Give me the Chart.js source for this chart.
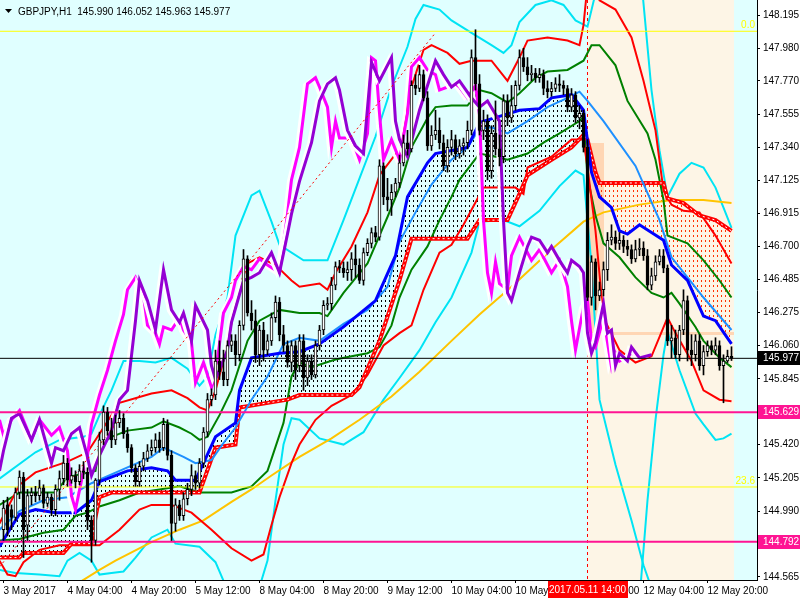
<!DOCTYPE html>
<html>
<head>
<meta charset="utf-8">
<script src="https://cdn.jsdelivr.net/npm/chart.js@4.4.1/dist/chart.umd.min.js"></script>
<style>
  html, body { margin: 0; padding: 0; background: #fff; }
  #wrap { width: 800px; height: 600px; }
</style>
</head>
<body>
<div id="wrap"><canvas id="chart" width="800" height="600"></canvas></div>
<script>
// GBPJPY H1, 3 May 2017 12:00 .. 12 May 2017 (bar index = hour bar)
const symbolTitle = "GBPJPY,H1  145.990 146.052 145.963 145.977";

const xTickIdx = [0, 16, 32, 48, 64, 80, 96, 112, 128, 144, 160, 176];
const xTickLabels = ["3 May 2017", "4 May 04:00", "4 May 20:00", "5 May 12:00", "8 May 04:00", "8 May 20:00",
  "9 May 12:00", "10 May 04:00", "10 May 20:00", "11 May 12:00", "12 May 04:00", "12 May 20:00"];
const yTickVals = [148.195, 147.980, 147.770, 147.555, 147.340, 147.125, 146.915, 146.700, 146.485, 146.275,
  146.060, 145.845, 145.630, 145.420, 145.205, 144.990, 144.775, 144.565];

// candles
const candleOpen = [144.87,145.03,145.00,144.95,145.11,145.21,144.90,145.09,145.11,145.09,
  145.14,145.04,145.08,145.00,145.13,145.20,145.30,145.19,145.22,145.18,
  145.25,145.24,144.93,144.80,145.19,145.45,145.63,145.51,145.45,145.56,
  145.59,145.49,145.40,145.27,145.18,145.28,145.33,145.38,145.40,145.45,
  145.40,145.55,145.35,144.91,145.03,144.96,145.07,145.13,145.22,145.17,
  145.30,145.50,145.71,145.74,145.96,145.89,145.84,146.06,146.09,146.00,
  146.19,146.62,146.27,146.22,146.00,146.16,146.03,146.09,146.24,146.34,
  146.13,146.06,145.95,146.06,145.93,146.09,145.85,145.96,145.87,146.06,
  146.16,146.32,146.33,146.45,146.57,146.56,146.53,146.55,146.62,146.58,
  146.48,146.66,146.72,146.79,146.76,147.22,147.02,147.00,147.05,147.11,
  147.24,147.37,147.33,147.74,147.72,147.81,147.66,147.35,147.42,147.45,
  147.37,147.22,147.34,147.39,147.30,147.35,147.37,147.45,147.92,147.75,
  147.45,147.51,147.19,147.43,147.33,147.28,147.64,147.53,147.61,147.74,
  147.92,147.86,147.81,147.82,147.79,147.81,147.72,147.70,147.72,147.75,
  147.74,147.72,147.60,147.68,147.53,147.56,147.34,146.37,146.60,146.38,
  146.42,146.55,146.74,146.76,146.72,146.74,146.70,146.68,146.62,146.68,
  146.69,146.64,146.45,146.51,146.60,146.64,146.56,146.09,146.11,146.00,
  146.16,146.35,146.03,146.00,146.09,145.93,146.02,146.06,146.03,146.06,
  145.93,145.96,145.990];
const candleHigh = [145.06,145.08,145.03,145.14,145.25,145.24,145.13,145.14,145.15,145.19,
  145.16,145.11,145.10,145.16,145.25,145.35,145.33,145.27,145.25,145.29,
  145.31,145.27,144.96,145.20,145.50,145.67,145.66,145.59,145.61,145.64,
  145.62,145.53,145.42,145.29,145.31,145.37,145.42,145.45,145.49,145.50,
  145.59,145.58,145.38,145.07,145.06,145.11,145.17,145.29,145.25,145.33,
  145.53,145.75,145.78,146.03,146.09,146.03,146.09,146.13,146.13,146.22,
  146.68,146.64,146.35,146.29,146.19,146.21,146.13,146.27,146.38,146.37,
  146.19,146.09,146.09,146.09,146.13,146.13,146.00,146.00,146.09,146.19,
  146.35,146.37,146.50,146.60,146.61,146.60,146.60,146.66,146.71,146.62,
  146.69,146.75,146.82,146.83,147.26,147.24,147.14,147.10,147.14,147.29,
  147.42,147.45,147.77,147.81,147.87,147.84,147.70,147.48,147.58,147.53,
  147.42,147.39,147.45,147.42,147.39,147.40,147.51,147.97,148.10,147.81,
  147.58,147.55,147.48,147.64,147.42,147.68,147.68,147.74,147.77,147.97,
  147.98,147.92,147.87,147.85,147.85,147.84,147.77,147.76,147.79,147.81,
  147.77,147.74,147.72,147.70,147.61,147.58,147.39,146.64,146.62,146.47,
  146.60,146.79,146.84,146.80,146.79,146.77,146.74,146.71,146.74,146.75,
  146.73,146.68,146.56,146.64,146.68,146.68,146.58,146.19,146.16,146.19,
  146.42,146.38,146.13,146.13,146.13,146.06,146.09,146.09,146.11,146.09,
  146.00,146.03,146.052];
const candleLow = [144.80,144.83,144.87,144.93,145.07,144.69,144.80,145.03,145.05,145.06,
  145.01,145.02,144.96,144.96,145.06,145.16,145.15,145.17,145.14,145.16,
  145.20,144.87,144.66,144.77,145.16,145.42,145.48,145.40,145.42,145.53,
  145.46,145.37,145.24,145.15,145.15,145.25,145.31,145.35,145.37,145.37,
  145.38,145.32,144.80,144.86,144.93,144.93,145.03,145.09,145.13,145.14,
  145.27,145.47,145.67,145.71,145.84,145.80,145.80,146.02,145.93,145.96,
  146.16,146.25,146.16,145.95,145.93,145.96,146.00,146.06,146.21,146.09,
  146.02,145.92,145.89,145.84,145.89,145.77,145.80,145.84,145.85,146.03,
  146.13,146.29,146.29,146.42,146.53,146.50,146.48,146.48,146.50,146.46,
  146.45,146.64,146.69,146.73,146.74,146.97,146.93,146.90,147.02,147.08,
  147.22,147.29,147.31,147.68,147.70,147.64,147.32,147.32,147.39,147.33,
  147.19,147.18,147.29,147.26,147.27,147.29,147.33,147.42,147.71,147.42,
  147.39,147.13,147.14,147.29,147.22,147.24,147.48,147.50,147.58,147.71,
  147.83,147.77,147.77,147.76,147.76,147.68,147.66,147.67,147.70,147.70,
  147.68,147.57,147.57,147.50,147.46,147.31,146.35,146.32,146.29,146.35,
  146.38,146.48,146.71,146.68,146.68,146.66,146.64,146.59,146.60,146.64,
  146.61,146.42,146.42,146.48,146.58,146.53,146.06,145.98,145.98,145.96,
  146.13,145.96,145.93,145.96,145.90,145.87,145.99,146.00,146.00,145.90,
  145.69,145.95,145.963];
const candleClose = [145.01,144.87,144.95,145.11,145.21,144.87,145.09,145.11,145.09,145.14,
  145.04,145.08,145.00,145.13,145.20,145.30,145.19,145.22,145.18,145.25,
  145.24,144.93,144.80,145.19,145.45,145.63,145.51,145.45,145.56,145.59,
  145.49,145.40,145.27,145.18,145.28,145.33,145.38,145.40,145.45,145.40,
  145.55,145.35,144.91,145.03,144.96,145.07,145.13,145.22,145.17,145.30,
  145.50,145.71,145.74,145.96,145.89,145.84,146.06,146.09,146.00,146.19,
  146.62,146.27,146.22,146.00,146.16,146.03,146.09,146.24,146.34,146.13,
  146.06,145.95,146.06,145.90,146.09,145.85,145.96,145.87,146.06,146.16,
  146.32,146.33,146.45,146.57,146.56,146.53,146.55,146.62,146.58,146.48,
  146.66,146.72,146.79,146.76,147.22,147.02,147.00,147.05,147.11,147.24,
  147.37,147.33,147.74,147.72,147.81,147.66,147.35,147.42,147.45,147.37,
  147.22,147.34,147.39,147.30,147.35,147.37,147.45,147.92,147.75,147.45,
  147.51,147.19,147.43,147.33,147.28,147.64,147.53,147.61,147.74,147.92,
  147.86,147.81,147.82,147.79,147.81,147.72,147.70,147.72,147.75,147.74,
  147.72,147.60,147.68,147.53,147.56,147.34,146.37,146.60,146.38,146.42,
  146.55,146.74,146.76,146.72,146.74,146.70,146.68,146.62,146.68,146.69,
  146.64,146.45,146.51,146.60,146.64,146.56,146.09,146.11,146.00,146.16,
  146.35,146.03,146.00,146.09,145.93,146.02,146.06,146.03,146.06,145.93,
  145.96,145.99,145.977];

// indicator lines (bar index / price)
const maX = [19,24,28,37,44,50,57,62,67,74,82,89,97,104,112,119,127,137,145,150,159,167,175,182];
const maY = [144.53,144.61,144.67,144.79,144.87,144.93,145.05,145.13,145.22,145.34,145.46,145.58,145.73,145.89,146.09,146.26,146.44,146.68,146.86,146.92,146.97,147.00,147.00,146.98];

const cyanUpperX = [-1,8,14,20,22,24,27,30,34,38,42,46,49,51,53,56,58,62,64,67,69,75,81,85,89,93,97,101,103,105,109,112,117,122,125,127,129,133,137,140,143,146,150,159,162,164,166,169,172,175,178,180,182];
const cyanUpperY = [145.20,145.37,145.45,145.47,145.49,145.61,145.77,145.96,145.96,145.95,145.98,145.91,145.80,145.86,146.13,146.37,146.77,147.03,147.06,146.86,146.71,146.61,146.61,146.87,147.14,147.41,147.73,147.99,148.17,148.26,148.23,148.16,148.08,148.00,147.95,148.00,148.15,148.26,148.29,148.26,148.16,148.12,148.55,148.55,147.71,147.32,147.02,147.17,147.24,147.21,147.08,146.95,146.82];
const cyanLowerX = [-1,3,9,14,16,19,22,24,27,30,33,37,41,43,49,53,55,59,64,66,68,70,72,74,79,85,90,95,99,104,108,112,117,119,125,129,134,139,143,145,147,149,153,157,160,163];
const cyanLowerY = [144.61,144.59,144.58,144.57,144.67,144.72,144.67,144.58,144.59,144.60,144.69,144.82,144.87,144.78,144.76,144.66,144.54,144.45,144.50,144.67,145.06,145.42,145.59,145.58,145.46,145.42,145.50,145.71,145.85,146.03,146.21,146.37,146.66,146.86,146.87,146.83,146.93,147.09,147.19,147.16,146.58,145.71,145.29,144.93,144.64,144.42];
const cyanFutureX = [159,161,163,165,166,169,173,175,178,180,182];
const cyanFutureY = [144.42,145.06,145.58,146.00,146.15,145.90,145.62,145.55,145.45,145.46,145.49];

const greenUpperX = [-1,4,13,16,23,24,27,31,37,40,44,47,49,51,54,57,61,64,69,74,79,81,85,91,96,99,102,106,108,112,116,119,122,126,129,133,136,141,145,147,149,153,156,161,163,165,166,171,175,179,182];
const greenUpperY = [145.03,145.11,145.11,145.21,145.25,145.42,145.47,145.51,145.53,145.57,145.53,145.49,145.45,145.47,145.61,145.77,146.09,146.22,146.29,146.27,146.27,146.25,146.40,146.59,146.89,147.08,147.34,147.53,147.60,147.61,147.61,147.71,147.69,147.63,147.69,147.79,147.83,147.84,147.90,148.00,148.00,147.87,147.64,147.43,147.26,147.00,146.77,146.72,146.61,146.48,146.37];
const greenLowerX = [-1,4,10,15,18,21,24,29,34,39,44,49,57,62,66,70,72,74,77,83,87,91,94,97,99,102,106,109,112,114,119,123,126,131,135,139,144,145,146,148,150,154,158,162,165,167,169,173,175,179,182];
const greenLowerY = [144.80,144.81,144.85,144.87,144.96,144.98,145.02,145.06,145.11,145.13,145.15,145.11,145.11,145.15,145.25,145.56,145.86,145.95,145.92,145.97,145.99,146.01,146.05,146.19,146.37,146.55,146.70,146.87,147.02,147.13,147.30,147.28,147.26,147.30,147.37,147.43,147.51,147.54,147.15,146.90,146.72,146.63,146.50,146.40,146.37,146.40,146.33,146.18,146.09,145.98,145.92];

const redUpperX = [-1,4,8,16,21,24,29,37,42,46,49,51,53,56,58,61,64,68,72,74,79,81,83,87,91,94,99,102,105,107,111,114,117,122,126,129,131,136,141,144,145,146,148,149,153,157,160,163,165,167,170,174,178,182];
const redUpperY = [144.91,145.16,145.24,145.31,145.37,145.49,145.69,145.75,145.77,145.72,145.66,145.64,145.77,146.06,146.35,146.59,146.63,146.58,146.48,146.44,146.46,146.42,146.53,146.70,146.92,147.16,147.33,147.73,147.97,148.00,147.95,147.88,147.90,147.90,147.77,147.92,148.03,148.05,148.03,148.00,148.13,148.39,148.42,148.29,148.23,148.05,147.77,147.45,147.06,146.97,146.93,146.92,146.77,146.59];
const redLowerX = [-1,1,3,5,9,14,24,29,34,37,42,47,52,57,62,65,67,69,72,74,78,82,87,91,95,99,102,105,109,112,115,120,128,130,131,137,142,145,146,148,150,154,158,162,166,168,172,175,179,182];
const redLowerY = [144.67,144.58,144.57,144.66,144.74,144.77,144.77,144.87,145.00,145.03,145.03,144.98,144.87,144.75,144.67,144.71,144.90,145.08,145.30,145.42,145.58,145.67,145.74,145.87,146.06,146.14,146.19,146.42,146.66,146.71,146.84,147.08,147.08,147.04,147.21,147.28,147.39,147.39,147.21,146.80,146.24,146.03,145.95,145.99,146.24,146.14,145.96,145.77,145.71,145.70];

// cloud: span A (blue) and span B (red step)
const spanAX = [-1,2,4,8,13,18,22,24,31,37,41,43,48,50,53,58,59,62,69,74,79,85,93,98,101,106,108,116,119,124,129,134,137,142,145,147,149,152,154,156,159,165,167,171,175,178,182];
const spanAY = [144.76,144.89,144.97,145.00,144.98,144.98,145.06,145.18,145.25,145.27,145.25,145.19,145.19,145.30,145.47,145.56,145.77,145.98,146.01,146.02,146.07,146.18,146.35,146.64,147.02,147.24,147.30,147.34,147.50,147.54,147.58,147.59,147.66,147.68,147.58,147.18,147.02,146.95,146.80,146.78,146.84,146.74,146.58,146.48,146.25,146.22,146.07];
const spanBX = [-1,4,5,15,17,22,23,24,27,49,53,58,59,71,74,87,89,94,99,102,116,119,126,129,131,137,142,145,146,148,149,165,166,170,174,178,182];
const spanBY = [144.69,144.69,144.72,144.72,144.78,144.78,144.95,145.08,145.11,145.11,145.40,145.42,145.66,145.71,145.74,145.74,145.79,146.09,146.48,146.75,146.75,146.87,146.87,147.04,147.16,147.26,147.34,147.42,147.39,147.18,147.11,147.11,147.01,146.98,146.90,146.87,146.80];
const lightBlueX = [-1,4,10,16,22,29,37,40,45,48,52,55,58,62,66,70,74,79,85,91,96,99,103,107,112,116,119,122,126,131,136,141,144,146,150,158,164,167,171,175,182];
const lightBlueY = [144.87,144.99,145.06,145.08,145.17,145.25,145.34,145.40,145.34,145.30,145.32,145.43,145.53,145.71,145.86,146.07,146.11,146.09,146.20,146.29,146.44,146.73,146.92,147.10,147.26,147.34,147.46,147.47,147.43,147.51,147.60,147.66,147.70,147.64,147.51,147.22,146.87,146.63,146.50,146.37,146.16];

const magentaX = [-1,0,2,4,7,9,12,14,16,17,18,20,21,22,24,26,28,30,31,33,35,36,38,39,40,42,44,45,47,48,50,52,53,55,57,58,60,62,64,66,69,71,72,74,76,78,79,81,82,83,84,87,89,91,92,93,94,95,97,99,101,102,104,106,108,109,111,113,114,116,118,119,120,121,122,123,124,126,127,129,132,134,137,139,141,142,143,145,146,147,148,150,152,153,154,157,159];
const magentaY = [145.58,145.48,145.58,145.64,145.45,145.58,145.48,145.53,145.38,145.09,145.00,145.25,145.35,145.55,145.74,145.90,146.09,146.26,146.42,146.50,146.38,146.19,146.14,146.07,146.18,146.16,146.24,146.16,146.08,145.82,145.95,145.79,145.87,146.27,146.37,146.48,146.57,146.55,146.62,146.58,146.53,146.91,147.13,147.34,147.75,147.79,147.73,147.60,147.34,147.51,147.40,147.40,147.26,147.43,147.92,147.90,147.56,147.26,147.39,147.26,147.56,147.86,147.92,147.84,147.81,147.71,147.73,147.75,147.73,147.66,147.74,147.55,146.87,146.53,146.40,146.60,146.46,146.42,146.64,146.76,146.61,146.68,146.53,146.61,146.44,146.22,146.03,146.31,146.35,146.09,146.05,146.24,145.92,146.01,145.96,146.01,145.98];
const purpleX = [-1,0,2,4,7,9,12,13,15,17,19,21,22,24,27,29,31,33,34,36,38,40,42,44,45,47,48,51,52,53,56,57,60,62,64,67,69,71,72,74,77,79,81,83,84,86,88,90,92,94,97,98,99,101,104,108,110,112,114,117,119,121,124,125,126,127,129,131,132,134,136,137,139,141,142,144,145,146,147,148,150,151,152,153,154,156,157,159,162];
const purpleY = [145.25,145.38,145.59,145.62,145.45,145.58,145.30,145.40,145.38,145.49,145.53,145.34,145.22,145.35,145.51,145.71,145.77,146.22,146.48,146.35,146.16,146.55,146.29,146.21,146.27,146.09,146.32,146.16,145.93,145.84,146.03,146.21,146.48,146.50,146.53,146.66,146.53,146.78,146.91,147.12,147.37,147.64,147.75,147.79,147.71,147.45,147.35,147.30,147.89,147.77,147.92,147.51,147.39,147.28,147.58,147.90,147.81,147.73,147.77,147.66,147.60,147.64,147.51,146.87,146.40,146.35,146.53,146.70,146.76,146.74,146.66,146.70,146.61,146.53,146.61,146.57,146.53,146.14,146.01,146.08,146.33,146.14,146.16,145.93,146.01,145.96,146.05,145.98,146.00];

// objects
const fibTrendX = [-1, 108];
const fibTrendY = [144.63, 148.08];
const fibLevels = [148.09, 145.146];
const fibLabels = ["0.0", "23.6"];
const lastPrice = 145.977;
const pinkLevels = [145.629, 144.792];
const markerIdx = 146;           // 2017.05.11 14:00
const markerLabel = "2017.05.11 14:00";
const lastIdx = 182;
const boxTop = 147.37, boxBottom = 146.14;

const FONT_FAMILY = '"Liberation Sans", Arial, sans-serif';
const FONT = "10px " + FONT_FAMILY;

const canvas = document.getElementById("chart");
const ctx = canvas.getContext("2d");

function pts(xs, ys) { return xs.map((x, k) => ({ x: x, y: ys[k] })); }

// dotted hatching for the cloud
function dots(color) {
  const c = document.createElement("canvas");
  c.width = 4; c.height = 5;
  const g = c.getContext("2d");
  g.fillStyle = color;
  g.fillRect(1, 0, 1, 2);
  return ctx.createPattern(c, "repeat");
}

function line(data, color, width, extra) {
  return Object.assign({
    type: "line", data: data, borderColor: color, borderWidth: width,
    pointRadius: 0, tension: 0, fill: false, clip: 0
  }, extra || {});
}

const hSpan = [-1, 189];

const datasets = [
  line(pts(cyanUpperX, cyanUpperY), "#00E4F4", 2),
  line(pts(cyanLowerX, cyanLowerY), "#00E4F4", 2),
  line(pts(cyanFutureX, cyanFutureY), "#00E4F4", 2),
  line(pts(maX, maY), "#FFC400", 2),
  line(pts(greenUpperX, greenUpperY), "#008000", 2),
  line(pts(greenLowerX, greenLowerY), "#008000", 2),
  line(pts(redUpperX, redUpperY), "#FF0000", 2),
  line(pts(redLowerX, redLowerY), "#FF0000", 2),
  line(pts(spanBX, spanBY), "#FF0000", 4),                       // 8
  line(pts(spanBX, spanBY), "#FFFFFF", 1, { borderDash: [2, 3] }),
  line(pts(lightBlueX, lightBlueY), "#1E90FF", 2),
  line(pts(spanAX, spanAY), "#0000FF", 3, { fill: { target: 8, above: dots("#000000"), below: dots("#FF3300") } }),
  line(pts(magentaX, magentaY), "#FF00FF", 3, { halo: true }),
  line(pts(purpleX, purpleY), "#9400D3", 3, { halo: true }),
  line(pts(fibTrendX, fibTrendY), "#FF0000", 1, { borderDash: [2, 3] }),
  line(pts(hSpan, [lastPrice, lastPrice]), "#000000", 1),
  line(pts(hSpan, [pinkLevels[0], pinkLevels[0]]), "#FF1493", 2),
  line(pts(hSpan, [pinkLevels[1], pinkLevels[1]]), "#FF1493", 2),
  line(pts(hSpan, [fibLevels[0], fibLevels[0]]), "#FFFF00", 1),
  line(pts(hSpan, [fibLevels[1], fibLevels[1]]), "#FFFF00", 1),
  {
    type: "bar",
    data: candleHigh.map((h, i) => ({ x: i, y: [candleLow[i], h] })),
    backgroundColor: "#000", borderWidth: 0, barThickness: 1, grouped: false, clip: 0
  },
  {
    type: "bar",
    data: candleOpen.map((o, i) => ({ x: i, y: [o, candleClose[i]] })),
    backgroundColor: candleOpen.map((o, i) => candleClose[i] >= o ? "#FFFFFF" : "#000000"),
    borderColor: "#000", borderWidth: 1, borderSkipped: false, minBarLength: 1,
    barThickness: 3, grouped: false, clip: 0
  }
];
datasets.forEach((d, k) => { d.order = 50 - k; });

// background, future zone, trade box, vertical marker
const backdrop = {
  id: "backdrop",
  beforeDraw(chart) {
    const { ctx: c, chartArea: a, scales: { x, y } } = chart;
    c.save();
    c.fillStyle = "#FFFFFF";
    c.fillRect(0, 0, chart.width, chart.height);
    c.fillStyle = "#E0FFFF";
    c.fillRect(a.left, a.top, a.right - a.left, a.bottom - a.top);
    const fx0 = Math.round(x.getPixelForValue(markerIdx));
    const fx1 = Math.round(x.getPixelForValue(lastIdx + 0.5));
    c.fillStyle = "#FDF5E6";
    c.fillRect(fx0, a.top, fx1 - fx0, a.bottom - a.top);
    const bx1 = Math.round(x.getPixelForValue(markerIdx + 4));
    const by0 = Math.round(y.getPixelForValue(boxTop));
    const by1 = Math.round(y.getPixelForValue(boxBottom));
    c.fillStyle = "#FFD6B4";
    c.fillRect(fx0, by0, bx1 - fx0, by1 - by0);
    c.fillRect(bx1, by1 - 1, fx1 - bx1, 3);
    c.strokeStyle = "#FF0000";
    c.lineWidth = 1;
    c.setLineDash([3, 3]);
    c.beginPath();
    c.moveTo(fx0 - 0.5, a.top);
    c.lineTo(fx0 - 0.5, a.bottom);
    c.stroke();
    c.restore();
  }
};

// white offset halo behind the oscillator-like lines
const halo = {
  id: "halo",
  beforeDatasetDraw(chart, args) {
    if (!chart.data.datasets[args.index].halo) return;
    const c = chart.ctx;
    c.save();
    c.shadowColor = "#FFFFFF";
    c.shadowOffsetX = -3;
    c.shadowOffsetY = 1;
    c.shadowBlur = 0;
  },
  afterDatasetDraw(chart, args) {
    if (chart.data.datasets[args.index].halo) chart.ctx.restore();
  }
};

// price tags, fib labels, title, time tag
const overlay = {
  id: "overlay",
  afterDraw(chart) {
    const { ctx: c, chartArea: a, scales: { x, y } } = chart;
    c.save();
    c.font = FONT;
    c.textBaseline = "middle";

    c.fillStyle = "#FFFF00";
    c.textAlign = "right";
    fibLevels.forEach((v, k) => c.fillText(fibLabels[k], a.right - 2, y.getPixelForValue(v) - 6));

    const tag = (v, bg) => {
      const py = Math.round(y.getPixelForValue(v));
      c.fillStyle = bg;
      c.fillRect(a.right + 1, py - 7, chart.width - a.right - 1, 14);
      c.fillStyle = "#FFFFFF";
      c.textAlign = "left";
      c.fillText(v.toFixed(3), a.right + 6, py + 0.5);
    };
    tag(lastPrice, "#000000");
    pinkLevels.forEach(v => tag(v, "#FF1493"));

    const mx = x.getPixelForValue(markerIdx);
    c.fillStyle = "#FF0000";
    c.fillRect(Math.round(mx - 40), a.bottom + 1, 80, 17);
    c.fillStyle = "#FFFFFF";
    c.textAlign = "center";
    c.fillText(markerLabel, mx, a.bottom + 10);

    c.fillStyle = "#000000";
    c.beginPath();
    c.moveTo(5, 9); c.lineTo(12, 9); c.lineTo(8.5, 13); c.closePath();
    c.fill();
    c.textAlign = "left";
    c.fillText(symbolTitle, 18, 12);
    c.restore();
  }
};

new Chart(ctx, {
  type: "line",
  data: { datasets: datasets },
  options: {
    responsive: false,
    animation: false,
    devicePixelRatio: 1,
    layout: { padding: 0 },
    plugins: {
      legend: { display: false },
      tooltip: { enabled: false },
      filler: { propagate: false, drawTime: "beforeDatasetsDraw" }
    },
    scales: {
      x: {
        type: "linear",
        offset: false,
        min: -0.875,
        max: 188.375,
        afterBuildTicks: s => { s.ticks = xTickIdx.map(v => ({ value: v })); },
        afterFit: s => { s.height = 20; s.paddingLeft = 0; s.paddingRight = 0; },
        ticks: {
          autoSkip: false, maxRotation: 0, minRotation: 0, align: "start", padding: 2,
          color: "#000", font: { family: FONT_FAMILY, size: 10 },
          callback: (v, k) => xTickLabels[k]
        },
        grid: { offset: false, drawOnChartArea: false, drawTicks: true, tickLength: 3, color: "#000" },
        border: { display: true, color: "#000", width: 1 }
      },
      y: {
        type: "linear",
        position: "right",
        min: 144.545,
        max: 148.292,
        afterBuildTicks: s => { s.ticks = yTickVals.map(v => ({ value: v })); },
        afterFit: s => { s.width = 43; s.paddingTop = 0; s.paddingBottom = 0; },
        ticks: {
          padding: 3, color: "#000", font: { family: FONT_FAMILY, size: 10 },
          callback: v => v.toFixed(3)
        },
        grid: { drawOnChartArea: false, drawTicks: true, tickLength: 3, color: "#000" },
        border: { display: true, color: "#000", width: 1 }
      }
    }
  },
  plugins: [backdrop, halo, overlay]
});
</script>
</body>
</html>
